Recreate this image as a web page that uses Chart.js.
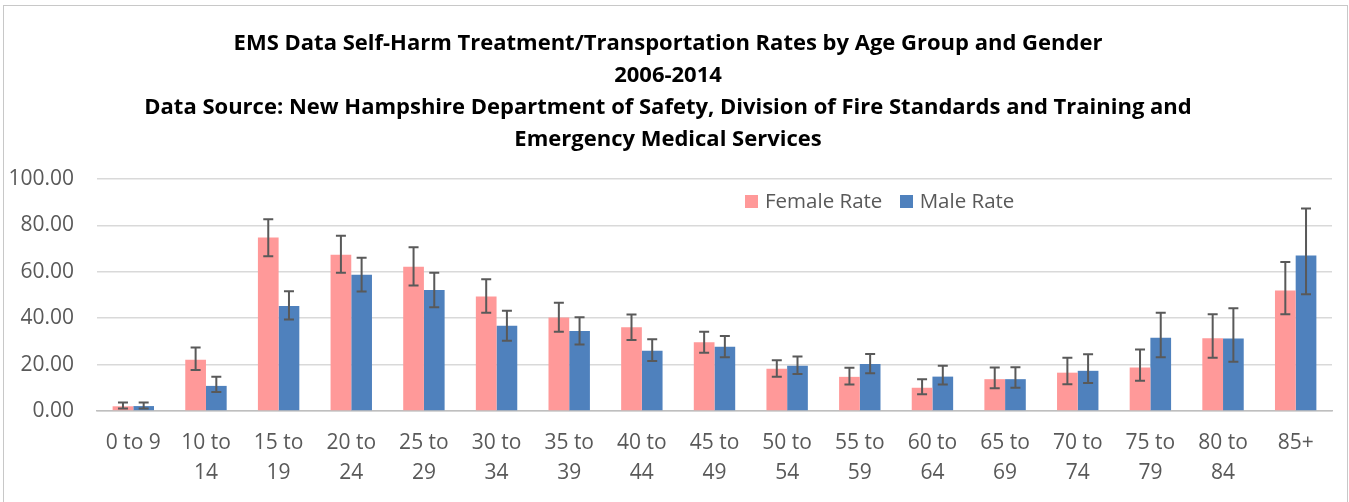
<!DOCTYPE html>
<html>
<head>
<meta charset="utf-8">
<script src="https://cdn.jsdelivr.net/npm/chart.js@4.4.1/dist/chart.umd.min.js"></script>
<style>
  body { margin: 0; background: #fff; }
  #wrap { position: absolute; left: 3px; top: 5px; width: 1343px; height: 500px; border: 1px solid #c8c8c8; }
  #legend { position: absolute; left: 745px; top: 186px; font-family: "Open Sans", sans-serif; font-size: 20.5px; color: #595959; white-space: nowrap; line-height: 28px; }
  #legend span.box { display: inline-block; width: 13px; height: 13px; margin-right: 7px; vertical-align: 0px; }
  #legend span.item { margin-right: 12px; }
</style>
</head>
<body>
<div id="wrap">
  <canvas id="grafico" width="1343" height="500"></canvas>
</div>
<div id="legend">
  <span class="item"><span class="box" style="background:#FF9999"></span>Female Rate</span>
  <span class="item"><span class="box" style="background:#4F81BD"></span>Male Rate</span>
</div>
<script>
const grupos = ['0 to 9', ['10 to', '14'], ['15 to', '19'], ['20 to', '24'], ['25 to', '29'], ['30 to', '34'],
  ['35 to', '39'], ['40 to', '44'], ['45 to', '49'], ['50 to', '54'], ['55 to', '59'], ['60 to', '64'],
  ['65 to', '69'], ['70 to', '74'], ['75 to', '79'], ['80 to', '84'], '85+'];

const tasaMujeres = [2.0, 22.1, 74.8, 67.4, 62.2, 49.4, 40.3, 36.1, 29.6, 18.2, 14.7, 10.0, 13.7, 16.5, 18.7, 31.3, 51.9];
const mujeresAlto = [3.6, 27.4, 82.7, 75.5, 70.6, 56.8, 46.6, 41.6, 34.2, 21.9, 18.6, 13.7, 18.7, 22.9, 26.5, 41.7, 64.2];
const mujeresBajo = [1.0, 17.7, 66.7, 59.6, 54.1, 42.3, 34.2, 30.6, 25.1, 14.7, 11.4, 7.2, 9.8, 11.5, 13.0, 22.9, 41.7];

const tasaHombres = [2.1, 10.8, 45.3, 58.7, 52.2, 36.7, 34.5, 26.0, 27.7, 19.5, 20.2, 14.8, 13.7, 17.3, 31.6, 31.2, 67.0];
const hombresAlto = [3.6, 14.7, 51.6, 66.1, 59.6, 43.2, 40.4, 30.9, 32.3, 23.5, 24.5, 19.5, 18.8, 24.4, 42.3, 44.3, 87.3];
const hombresBajo = [1.0, 8.2, 39.4, 51.5, 44.7, 30.3, 28.7, 21.5, 23.2, 15.9, 16.3, 11.4, 10.0, 12.0, 23.1, 21.2, 50.3];

const titulo = [
  'EMS Data Self-Harm Treatment/Transportation Rates by Age Group and Gender',
  '2006-2014',
  'Data Source: New Hampshire Department of Safety, Division of Fire Standards and Training and',
  'Emergency Medical Services'
];

const barrasError = {
  id: 'barrasError',
  afterDatasetsDraw(chart) {
    const ctx = chart.ctx;
    const y = chart.scales.y;
    const limites = [[mujeresAlto, mujeresBajo], [hombresAlto, hombresBajo]];
    ctx.save();
    ctx.strokeStyle = '#595959';
    ctx.lineWidth = 2;
    chart.data.datasets.forEach((ds, i) => {
      const meta = chart.getDatasetMeta(i);
      meta.data.forEach((bar, j) => {
        const yAlto = y.getPixelForValue(limites[i][0][j]);
        const yBajo = y.getPixelForValue(limites[i][1][j]);
        ctx.beginPath();
        ctx.moveTo(bar.x, yAlto); ctx.lineTo(bar.x, yBajo);
        ctx.moveTo(bar.x - 5, yAlto); ctx.lineTo(bar.x + 5, yAlto);
        ctx.moveTo(bar.x - 5, yBajo); ctx.lineTo(bar.x + 5, yBajo);
        ctx.stroke();
      });
    });
    ctx.restore();
  }
};

Chart.defaults.font.family = '"Open Sans", sans-serif';
Chart.defaults.color = '#595959';

new Chart(document.getElementById('grafico'), {
  type: 'bar',
  data: {
    labels: grupos,
    datasets: [
      { label: 'Female Rate', data: tasaMujeres, backgroundColor: '#FF9999', categoryPercentage: 0.57, barPercentage: 1.0 },
      { label: 'Male Rate', data: tasaHombres, backgroundColor: '#4F81BD', categoryPercentage: 0.57, barPercentage: 1.0 }
    ]
  },
  options: {
    responsive: false,
    animation: false,
    layout: { padding: { left: 0, right: 15, top: 0, bottom: 1 } },
    plugins: {
      legend: { display: false },
      tooltip: { enabled: false },
      title: {
        display: true,
        text: titulo,
        color: '#000',
        font: { size: 22, weight: 'bold', lineHeight: 1.455 },
        padding: { top: 22, bottom: 23 }
      }
    },
    scales: {
      x: {
        grid: { display: false, drawTicks: false },
        border: { color: '#bfbfbf', width: 1.5 },
        ticks: { color: '#595959', font: { size: 21, lineHeight: 1.43 }, padding: 17, maxRotation: 0, autoSkip: false }
      },
      y: {
        min: 0,
        max: 100,
        afterFit(scale) { scale.width = 93; },
        grid: { color: '#d9d9d9', lineWidth: 1.5, drawTicks: false },
        border: { display: false },
        ticks: { stepSize: 20, padding: 23, color: '#595959', font: { size: 21 }, callback: v => v.toFixed(2) }
      }
    }
  },
  plugins: [barrasError]
});
</script>
</body>
</html>
